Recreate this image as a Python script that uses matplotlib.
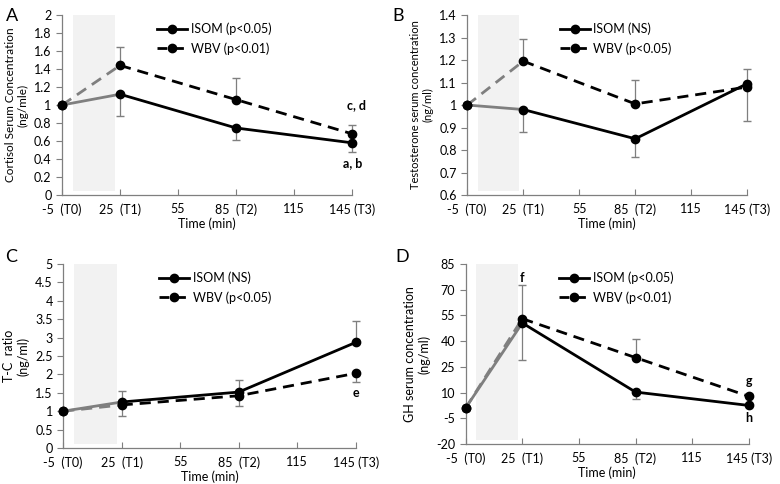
import numpy as np
import matplotlib
matplotlib.use("Agg")
import matplotlib.pyplot as plt

plt.rcParams['font.family'] = ['Lato', 'DejaVu Sans']

## Data
time = [-5, 25, 85, 145]
xticks = [-5, 25, 55, 85, 115, 145]
xlabels = ['-5  (T0)', '25  (T1)', '55', '85  (T2)', '115', '145 (T3)']

# Cortisol
cort_isom = [1.0, 1.12, 0.745, 0.58]
cort_isom_err = [0, 0.24, 0.135, 0.10]
cort_wbv = [1.0, 1.44, 1.06, 0.68]
cort_wbv_err = [0, 0.21, 0.24, 0.10]

# Testosterone
test_isom = [1.0, 0.98, 0.85, 1.095]
test_isom_err = [0, 0.10, 0.08, 0.165]
test_wbv = [1.0, 1.195, 1.005, 1.08]
test_wbv_err = [0, 0.10, 0.105, 0.08]

# T-C ratio
tc_isom = [1.0, 1.25, 1.52, 2.87]
tc_isom_err = [0, 0.30, 0.33, 0.58]
tc_wbv = [1.0, 1.17, 1.42, 2.03]
tc_wbv_err = [0, 0.30, 0.27, 0.23]

# GH
gh_isom = [1.0, 50.6, 10.3, 2.5]
gh_isom_err = [0, 21.4, 3.8, 0]
gh_wbv = [1.0, 53.1, 30.4, 7.8]
gh_wbv_err = [0, 19.5, 11.0, 1.5]

panels = [
    dict(tag='A', tagxy=(0.007, 0.966), pos=[0.0795, 0.597, 0.372, 0.372], isom=cort_isom, isom_err=cort_isom_err,
         wbv=cort_wbv, wbv_err=cort_wbv_err, isom_lab='ISOM (p<0.05)', wbv_lab='WBV (p<0.01)',
         ylim=(0, 2), yticks=np.arange(0, 2.01, 0.2), ylab='Cortisol Serum Concentration\n(ng/mle)', yfs=8.5,
         isom_up=False, notes=[('c, d', 147, 1.0), ('a, b', 145, 0.36)]),
    dict(tag='B', tagxy=(0.503, 0.966), pos=[0.599, 0.597, 0.359, 0.372], isom=test_isom, isom_err=test_isom_err,
         wbv=test_wbv, wbv_err=test_wbv_err, isom_lab='ISOM (NS)', wbv_lab='WBV (p<0.05)',
         ylim=(0.6, 1.4), yticks=np.arange(0.6, 1.41, 0.1), ylab='Testosterone serum concentration\n(ng/ml)', yfs=8,
         isom_up=False, notes=[]),
    dict(tag='C', tagxy=(0.007, 0.469), pos=[0.081, 0.0744, 0.375, 0.380], isom=tc_isom, isom_err=tc_isom_err,
         wbv=tc_wbv, wbv_err=tc_wbv_err, isom_lab='ISOM (NS)', wbv_lab='WBV (p<0.05)',
         ylim=(0, 5), yticks=np.arange(0, 5.01, 0.5), ylab='T-C  ratio\n(ng/ml)', yfs=9,
         isom_up=True, notes=[('e', 145, 1.5)]),
    dict(tag='D', tagxy=(0.507, 0.469), pos=[0.597, 0.0826, 0.363, 0.372], isom=gh_isom, isom_err=gh_isom_err,
         wbv=gh_wbv, wbv_err=gh_wbv_err, isom_lab='ISOM (p<0.05)', wbv_lab='WBV (p<0.01)',
         ylim=(-20, 85), yticks=np.arange(-20, 86, 15), ylab='GH serum concentration\n(ng/ml)', yfs=9,
         isom_up=False, notes=[('f', 25, 77), ('g', 145, 17), ('h', 145, -5)]),
]

fig = plt.figure(figsize=(7.8, 4.84), dpi=100)

for p in panels:
    ax = fig.add_axes(p['pos'])
    ax.axvspan(0.7, 22.5, ymin=0.02, ymax=1, color='#f2f2f2', lw=0, zorder=0)

    # error bars (one-sided)
    if p['isom_up']:
        ierr = [np.zeros(4), p['isom_err']]
        werr = [p['wbv_err'], np.zeros(4)]
    else:
        ierr = [p['isom_err'], np.zeros(4)]
        werr = [np.zeros(4), p['wbv_err']]
    ax.errorbar(time[1:], p['isom'][1:], yerr=[e[1:] for e in ierr], fmt='none',
                ecolor='#7f7f7f', elinewidth=0.9, capsize=3, zorder=2, clip_on=False)
    ax.errorbar(time[1:], p['wbv'][1:], yerr=[e[1:] for e in werr], fmt='none',
                ecolor='#7f7f7f', elinewidth=0.9, capsize=3, zorder=2, clip_on=False)

    # first segment in gray, rest black
    ax.plot(time[:2], p['isom'][:2], color='#7f7f7f', lw=2, zorder=3)
    ax.plot(time[:2], p['wbv'][:2], color='#7f7f7f', lw=2, ls=(0, (4, 2.5)), zorder=3)
    ax.plot(time[1:], p['isom'][1:], color='black', lw=2, zorder=3)
    ax.plot(time[1:], p['wbv'][1:], color='black', lw=2, ls=(0, (4, 2.5)), zorder=3)
    ax.plot(time, p['isom'], 'o', color='black', ms=6, zorder=4, clip_on=False)
    ax.plot(time, p['wbv'], 'o', color='black', ms=6, zorder=4, clip_on=False)

    # legend
    h1, = ax.plot([], [], color='black', lw=2, marker='o', ms=6)
    h2, = ax.plot([], [], color='black', lw=2, ls=(0, (3.5, 2.5)), marker='o', ms=6)
    ax.legend([h1, h2], [p['isom_lab'], p['wbv_lab']], loc='upper left',
              bbox_to_anchor=(0.29, 1.02), frameon=False, fontsize=9,
              handlelength=2.4, handletextpad=0.3, labelspacing=0.55)

    for txt, x, y in p['notes']:
        ax.text(x, y, txt, ha='center', va='center', fontsize=9, fontweight='bold')

    ax.set_xlim(-5, 145)
    ax.set_ylim(*p['ylim'])
    ax.set_xticks(xticks)
    ax.set_xticklabels(xlabels)
    ax.set_yticks(p['yticks'])
    ax.set_yticklabels([('%g' % round(v, 2)) for v in p['yticks']])
    ax.spines['top'].set_visible(False)
    ax.spines['right'].set_visible(False)
    for s in ['left', 'bottom']:
        ax.spines[s].set_color('#7f7f7f')
        ax.spines[s].set_linewidth(0.9)
    ax.tick_params(axis='x', direction='in', length=4, color='#7f7f7f', labelsize=9, pad=6)
    ax.tick_params(axis='y', direction='out', length=4, color='#7f7f7f', labelsize=9)
    ax.set_xlabel('Time (min)', fontsize=9, labelpad=1)
    ax.set_ylabel(p['ylab'], fontsize=p['yfs'], labelpad=4)
    ax.set_facecolor('white')
    fig.text(p['tagxy'][0], p['tagxy'][1], p['tag'], fontsize=13, va='center')

fig.savefig('out.png', dpi=100)
